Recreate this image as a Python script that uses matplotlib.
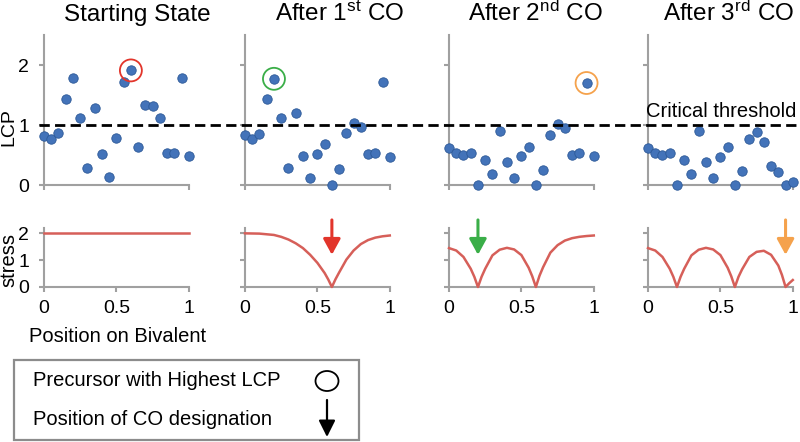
import matplotlib
matplotlib.use('Agg')
import matplotlib.pyplot as plt
from matplotlib import transforms
from matplotlib.lines import Line2D
from matplotlib.patches import Rectangle, Ellipse, FancyArrowPatch

plt.rcParams['font.family'] = ['Liberation Sans', 'DejaVu Sans']
plt.rcParams['mathtext.default'] = 'regular'

# ── data ───────────────────────────────────────────────────────────────
POS = [0.0, 0.05, 0.1, 0.15, 0.2, 0.25, 0.3, 0.35, 0.4, 0.45, 0.5,
       0.55, 0.6, 0.65, 0.7, 0.75, 0.8, 0.85, 0.9, 0.95, 1.0]

lcp_start = [0.82, 0.76, 0.86, 1.44, 1.79, 1.12, 0.28, 1.29, 0.52, 0.14, 0.79,
             1.71, 1.91, 0.64, 1.34, 1.32, 1.11, 0.53, 0.54, 1.78, 0.48]
lcp_co1 = [0.83, 0.77, 0.85, 1.44, 1.77, 1.11, 0.28, 1.20, 0.48, 0.11, 0.51,
           0.68, 0.00, 0.26, 0.86, 1.04, 0.96, 0.51, 0.53, 1.72, 0.47]
lcp_co2 = [0.61, 0.53, 0.50, 0.54, 0.00, 0.42, 0.19, 0.90, 0.39, 0.11, 0.48,
           0.64, 0.00, 0.25, 0.84, 1.02, 0.95, 0.50, 0.53, 1.70, 0.48]
lcp_co3 = [0.61, 0.53, 0.50, 0.54, 0.00, 0.42, 0.19, 0.90, 0.39, 0.11, 0.47,
           0.64, 0.00, 0.24, 0.76, 0.88, 0.71, 0.31, 0.21, 0.00, 0.05]

stress_x0 = [0.0, 1.0]
stress_y0 = [2.0, 2.0]
stress_x1 = [0.0, 0.1, 0.2, 0.25, 0.3, 0.35, 0.4, 0.45, 0.5, 0.55, 0.575,
             0.6, 0.625, 0.65, 0.7, 0.75, 0.8, 0.85, 0.9, 0.95, 1.0]
stress_y1 = [2.0, 1.99, 1.94, 1.87, 1.77, 1.63, 1.45, 1.20, 0.90, 0.52, 0.28,
             0.0, 0.29, 0.54, 1.02, 1.36, 1.60, 1.75, 1.84, 1.89, 1.92]
stress_x2 = [0.0, 0.05, 0.1, 0.15, 0.175, 0.2, 0.225, 0.25, 0.3, 0.35, 0.4, 0.45,
             0.5, 0.55, 0.575, 0.6, 0.625, 0.65, 0.7, 0.75, 0.8, 0.85, 0.9, 0.95, 1.0]
stress_y2 = [1.45, 1.36, 1.12, 0.68, 0.38, 0.0, 0.38, 0.68, 1.18, 1.39, 1.46, 1.40,
             1.19, 0.72, 0.40, 0.0, 0.42, 0.74, 1.28, 1.56, 1.73, 1.82, 1.87, 1.90, 1.92]
stress_x3 = [0.0, 0.05, 0.1, 0.15, 0.175, 0.2, 0.225, 0.25, 0.3, 0.35, 0.4, 0.45,
             0.5, 0.55, 0.575, 0.6, 0.625, 0.65, 0.7, 0.75, 0.8, 0.85, 0.9, 0.925,
             0.95, 0.975, 1.0]
stress_y3 = [1.45, 1.36, 1.12, 0.68, 0.38, 0.0, 0.38, 0.68, 1.18, 1.39, 1.46, 1.40,
             1.19, 0.72, 0.40, 0.0, 0.38, 0.66, 1.12, 1.31, 1.35, 1.20, 0.80, 0.45,
             0.0, 0.14, 0.26]

TITLES = ['Starting State', 'After 1$^{st}$ CO', 'After 2$^{nd}$ CO', 'After 3$^{rd}$ CO']
LCP = [lcp_start, lcp_co1, lcp_co2, lcp_co3]
STRESS = [(stress_x0, stress_y0), (stress_x1, stress_y1),
          (stress_x2, stress_y2), (stress_x3, stress_y3)]
HIGHLIGHT = [12, 4, 19, None]        # precursor with highest LCP
CO_POS = [None, 0.6, 0.2, 0.95]      # CO designated in this panel
MARK_COLORS = ['#e2352b', '#3aae48', '#f5a24c']
THRESHOLD = 1.0

# ── style ──────────────────────────────────────────────────────────────
DOT_FACE, DOT_EDGE = '#4373b9', '#2c5997'
STRESS_COLOR = '#d65f59'
AXIS_GRAY = '#a0a0a0'
LEFTS = [0.055, 0.30625, 0.56125, 0.81]
TITLE_X = [0.646, 0.653, 0.597, 0.559]
W = 0.181

fig = plt.figure(figsize=(8, 4.42), dpi=100)


def style_axes(ax):
    for s in ['top', 'right']:
        ax.spines[s].set_visible(False)
    for s in ['left', 'bottom']:
        ax.spines[s].set_color(AXIS_GRAY)
        ax.spines[s].set_linewidth(1.5)
    ax.tick_params(colors=AXIS_GRAY, width=1.5, length=3.6, labelcolor='black',
                   labelsize=14)
    ax.tick_params(axis='y', pad=7)
    ax.tick_params(axis='x', pad=6)
    ax.patch.set_alpha(0)


top_axes = []
for i in range(4):
    ax = fig.add_axes([LEFTS[i], 0.5814, W, 0.3394])
    style_axes(ax)
    ax.set_xlim(0, 1)
    ax.set_ylim(0, 2.5)
    ax.set_xticks([0, 1])
    ax.set_xticklabels([])
    ax.set_yticks([0, 1, 2])
    if i > 0:
        ax.set_yticklabels([])
    ax.scatter(POS, LCP[i], s=46, color=DOT_FACE, edgecolors=DOT_EDGE,
               linewidths=0.6, zorder=4, clip_on=False)
    h = HIGHLIGHT[i]
    if h is not None:
        ax.scatter([POS[h]], [LCP[i][h]], s=250, facecolors='none',
                   edgecolors=MARK_COLORS[i], linewidths=1.3, zorder=5, clip_on=False)
    ax.set_title(TITLES[i], x=TITLE_X[i], pad=10, fontsize=17.5)
    top_axes.append(ax)

# dashed critical threshold across the whole figure
tr = transforms.blended_transform_factory(fig.transFigure, top_axes[0].transData)
fig.add_artist(Line2D([39 / 800, 1.0], [THRESHOLD, THRESHOLD], transform=tr,
                      color='black', lw=2, dashes=(3.7, 1.9), zorder=3))
fig.text(0.996, 1 - 117 / 442, 'Critical threshold', ha='right', va='baseline',
         fontsize=14.5)

for i in range(4):
    ax = fig.add_axes([LEFTS[i], 0.3507, W, 0.1335])
    style_axes(ax)
    ax.set_xlim(0, 1)
    ax.set_ylim(0, 2.2)
    ax.set_xticks([0, 0.5, 1])
    ax.set_xticklabels(['0', '0.5', '1'])
    ax.set_yticks([0, 1, 2])
    if i > 0:
        ax.set_yticklabels([])
    sx, sy = STRESS[i]
    ax.plot(sx, sy, color=STRESS_COLOR, lw=1.8, clip_on=False, zorder=3)
    if CO_POS[i] is not None:
        ax.annotate('', xy=(CO_POS[i], 1.2), xytext=(CO_POS[i], 2.5),
                    arrowprops=dict(arrowstyle='-|>,head_length=0.95,head_width=0.52',
                                    color=MARK_COLORS[i - 1], lw=2.2,
                                    shrinkA=0, shrinkB=0, mutation_scale=10),
                    annotation_clip=False)

fig.text(9 / 800, 1 - 127 / 442, 'LCP', rotation=90, ha='center', va='center',
         fontsize=14)
fig.text(9 / 800, 1 - 260 / 442, 'stress', rotation=90, ha='center', va='center',
         fontsize=14.5)
fig.text(118 / 800, 1 - 342 / 442, 'Position on Bivalent', ha='center',
         va='baseline', fontsize=14.5)

# legend box
fig.add_artist(Rectangle((14 / 800, 1 - 440 / 442), 345 / 800, 80 / 442,
                         transform=fig.transFigure, fill=False,
                         edgecolor='#8c8c8c', lw=1.6))
fig.text(33 / 800, 1 - 386 / 442, 'Precursor with Highest LCP', ha='left',
         va='baseline', fontsize=14.5)
fig.text(33 / 800, 1 - 425 / 442, 'Position of CO designation', ha='left',
         va='baseline', fontsize=14.5)
fig.add_artist(Ellipse((327 / 800, 1 - 381 / 442), 23 / 800, 20 / 442,
                       transform=fig.transFigure, fill=False,
                       edgecolor='black', lw=1.3))
fig.add_artist(FancyArrowPatch((327 / 800, 1 - 400 / 442), (327 / 800, 1 - 437 / 442),
                               transform=fig.transFigure,
                               arrowstyle='-|>,head_length=1.0,head_width=0.5',
                               mutation_scale=10, color='black', lw=1.6,
                               shrinkA=0, shrinkB=0))

fig.savefig('out.png', dpi=100)
